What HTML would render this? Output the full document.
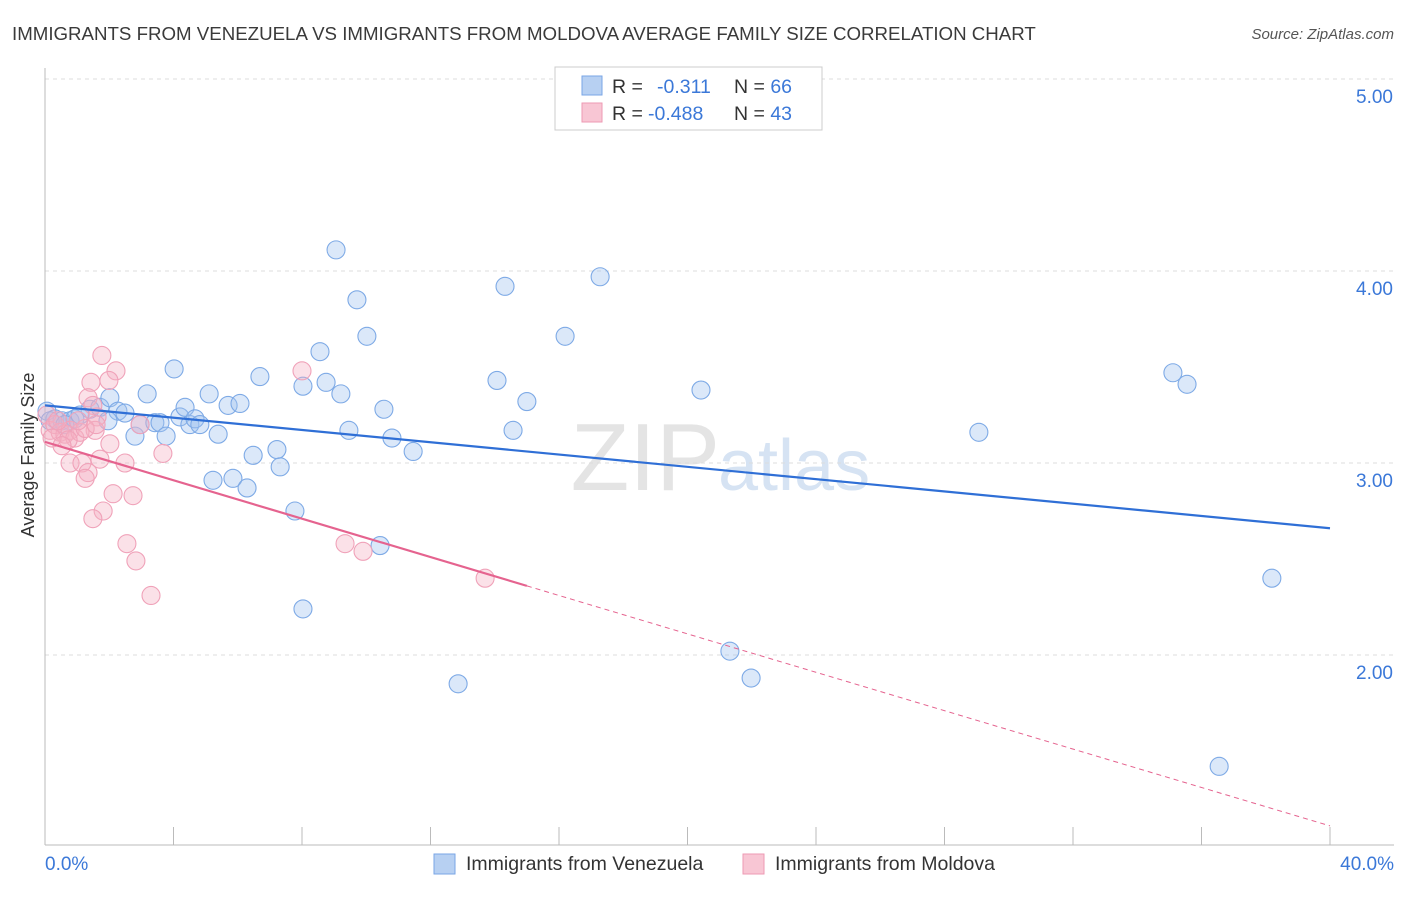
<!DOCTYPE html>
<html><head><meta charset="utf-8"><style>
body{margin:0;background:#fff;font-family:"Liberation Sans",sans-serif;}
svg text{font-family:"Liberation Sans",sans-serif;}
</style></head><body>
<svg id="c" width="1406" height="892" viewBox="0 0 1406 892" xmlns="http://www.w3.org/2000/svg">
<text x="12" y="40" font-size="18.7" fill="#3a3a3a">IMMIGRANTS FROM VENEZUELA VS IMMIGRANTS FROM MOLDOVA AVERAGE FAMILY SIZE CORRELATION CHART</text>
<text x="1394" y="39" font-size="15" fill="#555" font-style="italic" text-anchor="end">Source: ZipAtlas.com</text>
<text x="720" y="490" font-size="96" fill="#e4e4e4" text-anchor="end" font-family="Liberation Serif">ZIP</text>
<text x="718" y="490" font-size="72" fill="#d6e3f3">atlas</text>
<g id="grid"></g><g id="axes"></g><g id="pts"></g><g id="lines"></g>
<g>
<rect x="555" y="67" width="267" height="63" fill="#fff" stroke="#ccc"/>
<rect x="582" y="76" width="20" height="19" fill="#b7d0f2" stroke="#7aa6e6"/>
<rect x="582" y="103" width="20" height="19" fill="#f8c6d4" stroke="#ee9ab3"/>
<text x="612" y="93" font-size="19.5" fill="#333">R = <tspan fill="#3b78d8" x="657">-0.311</tspan><tspan fill="#333" x="734">N = </tspan><tspan fill="#3b78d8">66</tspan></text>
<text x="612" y="120" font-size="19.5" fill="#333">R = <tspan fill="#3b78d8" x="648">-0.488</tspan><tspan fill="#333" x="734">N = </tspan><tspan fill="#3b78d8">43</tspan></text>
</g>
<g>
<rect x="434" y="854" width="21" height="20" fill="#b7d0f2" stroke="#7aa6e6"/>
<text x="466" y="870" font-size="19.5" fill="#333">Immigrants from Venezuela</text>
<rect x="743" y="854" width="21" height="20" fill="#f8c6d4" stroke="#ee9ab3"/>
<text x="775" y="870" font-size="19.5" fill="#333">Immigrants from Moldova</text>
</g>
<text x="34" y="455" font-size="18" fill="#333" text-anchor="middle" transform="rotate(-90 34 455)">Average Family Size</text>
</svg>
<script>
const yTicks=[5,4,3,2];
const yTickLabels=["5.00","4.00","3.00","2.00"];
const xTickLabels=["0.0%","40.0%"];
const venX=[0.06,0.31,0.53,0.78,0.93,1.40,1.71,2.02,2.27,2.49,2.80,2.96,3.18,3.42,3.58,3.77,4.02,4.20,4.36,4.51,4.67,4.82,5.11,5.23,5.39,5.70,5.85,6.07,6.29,6.48,6.69,7.22,7.32,7.78,8.03,8.03,8.56,8.75,9.06,9.21,9.46,9.71,10.02,10.43,10.55,10.80,11.46,12.86,14.07,14.32,14.57,15.00,16.19,17.28,20.42,21.32,21.98,29.07,35.11,35.55,38.19,36.55,0.16,0.62,1.09,1.96];
const venY=[3.27,3.23,3.22,3.22,3.23,3.28,3.29,3.34,3.27,3.26,3.14,3.20,3.36,3.21,3.21,3.14,3.49,3.24,3.29,3.20,3.23,3.20,3.36,2.91,3.15,3.30,2.92,3.31,2.87,3.04,3.45,3.07,2.98,2.75,3.40,2.24,3.58,3.42,4.11,3.36,3.17,3.85,3.66,2.57,3.28,3.13,3.06,1.85,3.43,3.92,3.17,3.32,3.66,3.97,3.38,2.02,1.88,3.16,3.47,3.41,2.40,1.42,3.22,3.20,3.25,3.22];
const molX=[1.77,2.21,1.43,1.99,1.34,1.49,1.62,1.56,2.02,0.78,1.15,1.71,1.34,1.25,2.49,2.12,2.74,1.81,1.49,2.55,2.83,3.30,2.96,3.67,8.00,0.06,0.16,0.31,0.47,0.62,0.78,0.93,1.09,1.25,0.40,0.72,0.22,9.34,9.90,13.70,1.03,0.53,1.59];
const molY=[3.56,3.48,3.42,3.43,3.34,3.30,3.24,3.17,3.10,3.00,3.00,3.02,2.95,2.92,3.00,2.84,2.83,2.75,2.71,2.58,2.49,2.31,3.20,3.05,3.48,3.25,3.17,3.20,3.16,3.15,3.17,3.13,3.16,3.18,3.22,3.12,3.13,2.58,2.54,2.40,3.22,3.09,3.20];
const venTrend=[3.30,2.66];
const molTrend=[3.11,1.11];
const molSolidEnd=15.0;
const NS="http://www.w3.org/2000/svg";
const sx=v=>45+v/40*1285, sy=v=>79+(5-v)*192;
function mk(t,a,p){const e=document.createElementNS(NS,t);for(const k in a)e.setAttribute(k,a[k]);p.appendChild(e);return e;}
const grid=document.getElementById('grid'),axes=document.getElementById('axes'),pts=document.getElementById('pts'),lines=document.getElementById('lines');
yTicks.forEach((t,i)=>{
 const l=mk('line',{x1:45,x2:1394,y1:sy(t),y2:sy(t),stroke:'#dcdcdc','stroke-dasharray':'4,4'},grid);
 
 
 const tx=mk('text',{x:1393,y:sy(t)+24,'font-size':19,fill:'#3b78d8','text-anchor':'end'},axes);
 tx.textContent=yTickLabels[i];
 
 
});
const ax=mk('line',{x1:45,x2:1394,y1:845,y2:845,stroke:'#bbb'},axes);


const ay=mk('line',{x1:45,x2:45,y1:68,y2:845,stroke:'#bbb'},axes);


for(let i=0;i<=10;i++){const t=mk('line',{x1:sx(i*4),x2:sx(i*4),y1:827,y2:845,stroke:'#bbb'},axes);
 
 }
[[0,'start',45],[40,'end',1394]].forEach((d,i)=>{const t=mk('text',{x:d[2],y:870,'font-size':19,fill:'#3b78d8','text-anchor':d[1]},axes);t.textContent=xTickLabels[i];
 
 });
venX.forEach((x,i)=>{const c=mk('circle',{cx:sx(x),cy:sy(venY[i]),r:9,fill:'rgba(160,195,240,0.38)',stroke:'#7eaae6','stroke-width':1.1},pts);
 
 });
molX.forEach((x,i)=>{const c=mk('circle',{cx:sx(x),cy:sy(molY[i]),r:9,fill:'rgba(245,175,195,0.38)',stroke:'#f0a2b9','stroke-width':1.1},pts);
 
 });
const vt=mk('line',{x1:sx(0),y1:sy(venTrend[0]),x2:sx(40),y2:sy(venTrend[1]),stroke:'#2f6fd6','stroke-width':2.2},lines);


const my=x=>molTrend[0]+(molTrend[1]-molTrend[0])*x/40;
const mt=mk('line',{x1:sx(0),y1:sy(my(0)),x2:sx(molSolidEnd),y2:sy(my(molSolidEnd)),stroke:'#e5638f','stroke-width':2.2},lines);


const md=mk('line',{x1:sx(molSolidEnd),y1:sy(my(molSolidEnd)),x2:sx(40),y2:sy(my(40)),stroke:'#e5638f','stroke-width':1,'stroke-dasharray':'5,4'},lines);


</script>
</body></html>
